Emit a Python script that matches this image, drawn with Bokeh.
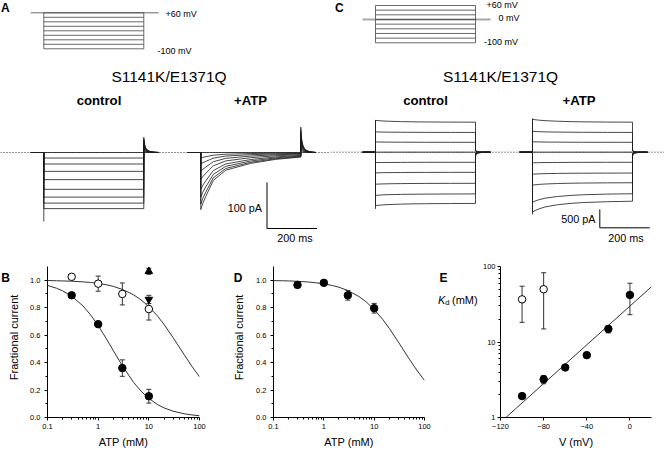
import math
from bokeh.plotting import figure
from bokeh.layouts import column, row
from bokeh.models import (Range1d, FixedTicker, Label, Span, Whisker, TeeHead,
                          ColumnDataSource, CustomJSTickFormatter, PrintfTickFormatter)
from bokeh.embed import file_html
from bokeh.resources import INLINE

# ======================= DATA =======================
# voltage protocol (mV) and timing (ms)
STEP_MV = [60, 40, 20, 0, -20, -40, -60, -80, -100]
A_HOLD_MV = 60
C_HOLD_MV = 0
PULSE_MS = 400
PRE_MS = -52
POST_MS = 460
ATP_OFFSET_MS = 628

# panel A currents (pA), one value per voltage step
A_CTRL_PA = [0, -12, -25, -41, -59, -80, -97, -110, -122]
A_CTRL_CAP_PA = -150
A_CTRL_TAIL_PA = [0, 5, 9, 13, 17, 21, 25, 29, 33]
A_ATP_PEAK_PA = [0, -12, -25, -41, -59, -80, -97, -112, -124]
A_ATP_TAIL_PA = [0, 8, 14, 21, 28, 35, 42, 48, 55]
ATP_DECAY_MS = [0, 8, 20, 35, 50, 100, 200, 300, 400]
ATP_DECAY_FRAC = [1.0, 0.89, 0.77, 0.63, 0.49, 0.31, 0.19, 0.12, 0.08]
TAIL_MS = [0, 3, 8, 15, 25, 40, 60]
TAIL_FRAC = [1.0, 0.55, 0.30, 0.15, 0.07, 0.02, 0.0]

# panel C currents (pA)
C_CTRL_START_PA = [870, 555, 280, 0, -285, -565, -875, -1180, -1460]
C_CTRL_END_PA = [820, 540, 270, 0, -275, -550, -850, -1140, -1400]
C_ATP_START_PA = [900, 570, 285, 0, -290, -600, -900, -1370, -1640]
C_ATP_END_PA = [820, 540, 270, 0, -275, -570, -835, -1135, -1340]
C_RELAX_MS = [0, 10, 25, 50, 100, 150, 200, 300, 400]
C_RELAX_FRAC = [1.0, 0.85, 0.70, 0.52, 0.32, 0.20, 0.12, 0.04, 0.0]
C_CTRL_CAP_PA = [880, -1550]
C_ATP_CAP_PA = [920, -1700]
C_TAIL_PA = [60, 45, 30, 0, -25, -45, -65, -85, -110]

SCALE_A_PA = 100
SCALE_C_PA = 500
SCALE_MS = 200

# panel B: fractional current vs [ATP]
ATP_MM = [0.3, 1, 3, 10]
B_FILLED = [0.89, 0.68, 0.36, 0.155]
B_FILLED_SEM = [0, 0, 0.06, 0.05]
B_OPEN = [1.025, 0.975, 0.90, 0.79]
B_OPEN_SEM = [0, 0.055, 0.08, 0.08]
B_UP_MM = [10]
B_UP = [1.065]
B_UP_SEM = [0.022]
B_DOWN_MM = [10]
B_DOWN = [0.86]
B_DOWN_SEM = [0.03]
FIT_MM = [0.1, 0.15, 0.2, 0.3, 0.5, 0.7, 1, 1.5, 2, 3, 5, 7, 10, 15, 20, 30, 50, 70, 100]
B_FIT_FILLED = [0.962, 0.942, 0.922, 0.884, 0.813, 0.750, 0.670, 0.565, 0.486, 0.377,
                0.256, 0.192, 0.139, 0.093, 0.070, 0.046, 0.027, 0.019, 0.013]
B_FIT_OPEN = [0.998, 0.996, 0.995, 0.993, 0.988, 0.984, 0.977, 0.966, 0.955, 0.933,
              0.894, 0.857, 0.808, 0.737, 0.677, 0.583, 0.457, 0.375, 0.296]

# panel D
D_FRAC = [0.966, 0.981, 0.89, 0.796]
D_SEM = [0, 0, 0.035, 0.035]
D_FIT = [0.997, 0.996, 0.995, 0.992, 0.987, 0.981, 0.974, 0.961, 0.949, 0.925,
         0.881, 0.841, 0.787, 0.712, 0.649, 0.552, 0.425, 0.346, 0.270]

# panel E: Kd vs voltage
E_V = [-100, -80, -60, -40, -20, 0]
E_KD = [1.92, 3.2, 4.6, 6.7, 14.9, 42]
E_KD_LO = [1.92, 2.8, 4.6, 6.7, 13.2, 23]
E_KD_HI = [1.92, 3.6, 4.6, 6.7, 16.3, 60]
E_V_OPEN = [-100, -80]
E_KD_OPEN = [36.7, 50]
E_KD_OPEN_LO = [18.2, 14.9]
E_KD_OPEN_HI = [54.8, 82.7]
E_FIT_V = [-115, 20]
E_FIT_KD = [1.0, 54]

# ======================= STYLE / LAYOUT =======================
FONT = "Liberation Sans"
TRACE = "#1a1a1a"
TOP_H = 253
BOT_H = 197


def lab(p, x, y, text, size, style="normal", align="left", baseline="middle",
        yr="default", angle=0.0):
    p.add_layout(Label(x=x, y=y, text=text, text_font=FONT, text_font_size=f"{size}px",
                       text_font_style=style, text_align=align, text_baseline=baseline,
                       text_color="black", y_range_name=yr, angle=angle))


def blank(w, h, xr, yr):
    p = figure(width=w, height=h, x_range=Range1d(*xr), y_range=Range1d(*yr),
               output_backend="svg", toolbar_location=None, x_axis_location=None,
               y_axis_location=None, min_border=0, outline_line_color=None)
    p.grid.visible = False
    return p


def trace_fig(w, xr, yr):
    p = blank(w, TOP_H, xr, yr)
    p.add_layout(Span(location=0, dimension="width", line_color="#222222",
                      line_width=1, line_dash="1 2"))
    return p


def tail_part(amp):
    return ([PULSE_MS + t for t in TAIL_MS], [amp * f for f in TAIL_FRAC])


# ---------------- Panel A ----------------
def a_t(xr): return (xr - 43.3) * 4.0
def a_pa(yr): return (152.0 - yr) / 0.46
def a_mv(yr): return 60.0 - (yr - 12.3) / 0.225


pa = trace_fig(330, (a_t(0), a_t(330)), (a_pa(253), a_pa(0)))
pa.extra_y_ranges = {"mv": Range1d(a_mv(253), a_mv(0))}

pxs = [[0, PULSE_MS] for _ in STEP_MV] + [[0, 0], [PULSE_MS, PULSE_MS], [PRE_MS, POST_MS]]
pys = [[v, v] for v in STEP_MV] + [[min(STEP_MV), max(STEP_MV)]] * 2 + [[A_HOLD_MV, A_HOLD_MV]]
pa.multi_line(pxs, pys, line_color="#444444", line_width=0.8, y_range_name="mv")

xs, ys = [], []
for L, tl in zip(A_CTRL_PA, A_CTRL_TAIL_PA):
    tx, ty = tail_part(tl)
    xs.append([PRE_MS, 0, 0, PULSE_MS] + tx)
    ys.append([0, 0, L, L] + ty)
xs.append([0, 0]); ys.append([0, A_CTRL_CAP_PA])
for L, tl in zip(A_ATP_PEAK_PA, A_ATP_TAIL_PA):
    tx, ty = tail_part(tl)
    x = [PRE_MS, 0] + ATP_DECAY_MS + tx
    y = [0, 0] + [L * f for f in ATP_DECAY_FRAC] + ty
    xs.append([v + ATP_OFFSET_MS for v in x]); ys.append(y)
pa.multi_line(xs, ys, line_color=TRACE, line_width=0.8)

sb_t, sb_p = a_t(266.5), a_pa(228)
pa.multi_line([[sb_t, sb_t, sb_t + SCALE_MS]], [[sb_p + SCALE_A_PA, sb_p, sb_p]],
              line_color="black", line_width=1)

lab(pa, a_t(0.5), a_pa(7.5), "A", 12, "bold")
lab(pa, a_t(165), a_pa(13), "+60 mV", 9)
lab(pa, a_t(157), a_pa(50), "-100 mV", 9)
lab(pa, a_t(168.5), a_pa(76), "S1141K/E1371Q", 15.5, align="center")
lab(pa, a_t(98.5), a_pa(100), "control", 13.2, "bold", align="center")
lab(pa, a_t(250), a_pa(100), "+ATP", 13.2, "bold", align="center")
lab(pa, a_t(261.5), a_pa(207.5), f"{SCALE_A_PA} pA", 10.8, align="right")
lab(pa, a_t(294.5), a_pa(237), f"{SCALE_MS} ms", 10.8, align="center")

# ---------------- Panel C ----------------
def c_t(xr): return (xr - 375.0) * 4.0
def c_pa(yr): return (151.7 - yr) * 27.32
def c_mv(yr): return 60.0 - (yr - 5.0) / 0.2331


pc = trace_fig(334, (c_t(330), c_t(664)), (c_pa(253), c_pa(0)))
pc.extra_y_ranges = {"mv": Range1d(c_mv(253), c_mv(0))}
pc.line([PRE_MS, POST_MS], [C_HOLD_MV, C_HOLD_MV], line_color="#a8a8a8",
        line_width=1.8, y_range_name="mv")
pxs = [[0, PULSE_MS] for _ in STEP_MV] + [[0, 0], [PULSE_MS, PULSE_MS]]
pys = [[v, v] for v in STEP_MV] + [[min(STEP_MV), max(STEP_MV)]] * 2
pc.multi_line(pxs, pys, line_color="#444444", line_width=0.8, y_range_name="mv")

xs, ys = [], []
for off, starts, ends, cap in ((0, C_CTRL_START_PA, C_CTRL_END_PA, C_CTRL_CAP_PA),
                               (ATP_OFFSET_MS, C_ATP_START_PA, C_ATP_END_PA, C_ATP_CAP_PA)):
    for s, e, tl in zip(starts, ends, C_TAIL_PA):
        tx, ty = tail_part(tl)
        x = [PRE_MS, 0] + C_RELAX_MS + tx
        y = [0, 0] + [e + (s - e) * f for f in C_RELAX_FRAC] + ty
        xs.append([v + off for v in x]); ys.append(y)
    xs.append([off, off]); ys.append(list(cap))
pc.multi_line(xs, ys, line_color=TRACE, line_width=0.8)

sb_t, sb_p = c_t(599.3), c_pa(227.3)
pc.multi_line([[sb_t, sb_t, sb_t + SCALE_MS]], [[sb_p + SCALE_C_PA, sb_p, sb_p]],
              line_color="black", line_width=1)

lab(pc, c_t(334.5), c_pa(7.5), "C", 12, "bold")
lab(pc, c_t(486), c_pa(4.5), "+60 mV", 9)
lab(pc, c_t(498), c_pa(17.5), "0 mV", 9)
lab(pc, c_t(483.5), c_pa(41), "-100 mV", 9)
lab(pc, c_t(500), c_pa(76), "S1141K/E1371Q", 15.5, align="center")
lab(pc, c_t(425), c_pa(100), "control", 13.2, "bold", align="center")
lab(pc, c_t(578.5), c_pa(100), "+ATP", 13.2, "bold", align="center")
lab(pc, c_t(595), c_pa(218), f"{SCALE_C_PA} pA", 10.8, align="right")
lab(pc, c_t(625.5), c_pa(237.5), f"{SCALE_MS} ms", 10.8, align="center")


# ---------------- bottom panels ----------------
def strip(x0, x1):
    # blank area (reference pixel coordinates) holding panel letters / side labels
    return blank(x1 - x0, BOT_H, (x0, x1), (450, 253))


def data_fig(w, left, frame_w, xr, yr, x_type="linear", y_type="linear"):
    p = figure(width=w, height=BOT_H, x_range=xr, y_range=yr, x_axis_type=x_type,
               y_axis_type=y_type, output_backend="svg", toolbar_location=None,
               min_border_left=left, min_border_right=w - left - frame_w,
               min_border_top=13, min_border_bottom=31, outline_line_color=None)
    p.grid.visible = False
    for ax in (p.xaxis[0], p.yaxis[0]):
        ax.axis_line_color = "black"
        ax.axis_line_width = 1
        ax.major_tick_line_color = "black"
        ax.minor_tick_line_color = "black"
        ax.major_tick_out = 3
        ax.major_tick_in = 0
        ax.minor_tick_out = 2
        ax.minor_tick_in = 0
        ax.major_label_text_font = FONT
        ax.major_label_text_font_size = "7.5px"
        ax.major_label_text_color = "black"
        ax.major_label_standoff = 3
        ax.axis_label_text_font = FONT
        ax.axis_label_text_font_size = "11px"
        ax.axis_label_text_font_style = "normal"
        ax.axis_label_text_color = "black"
        ax.axis_label_standoff = 4
    p.yaxis.major_label_standoff = 4
    return p


LOG_MINOR = [m * 10.0 ** e for e in (-1, 0, 1) for m in range(2, 10)]


def frac_axes(p):
    p.xaxis.ticker = FixedTicker(ticks=[0.1, 1, 10, 100], minor_ticks=LOG_MINOR)
    p.xaxis.formatter = CustomJSTickFormatter(code="return tick.toString();")
    p.yaxis.ticker = FixedTicker(ticks=[0, 0.2, 0.4, 0.6, 0.8, 1.0],
                                 minor_ticks=[0.1, 0.3, 0.5, 0.7, 0.9])
    p.yaxis.formatter = PrintfTickFormatter(format="%.1f")
    p.xaxis.axis_label = "ATP (mM)"


def err(p, x, lo, hi):
    src = ColumnDataSource(dict(base=x, lower=lo, upper=hi))
    p.add_layout(Whisker(source=src, base="base", lower="lower", upper="upper",
                         line_color="#333333", line_width=1,
                         upper_head=TeeHead(size=5, line_color="#333333", line_width=1),
                         lower_head=TeeHead(size=5, line_color="#333333", line_width=1)))


def err_sem(p, x, y, sem):
    keep = [i for i, s in enumerate(sem) if s > 0]
    err(p, [x[i] for i in keep], [y[i] - sem[i] for i in keep], [y[i] + sem[i] for i in keep])


# Panel B
sb = strip(0, 27)
lab(sb, 5, 268.5, "B", 12, "bold", align="center")
lab(sb, 13, 345.5, "Fractional current", 11, align="center", angle=math.pi / 2)

pb = data_fig(193, 18, 154, Range1d(0.1, 100), Range1d(0, 1.1), x_type="log")
frac_axes(pb)
pb.line(FIT_MM, B_FIT_FILLED, line_color="#333333", line_width=1)
pb.line(FIT_MM, B_FIT_OPEN, line_color="#333333", line_width=1)
err_sem(pb, ATP_MM, B_FILLED, B_FILLED_SEM)
err_sem(pb, ATP_MM, B_OPEN, B_OPEN_SEM)
err_sem(pb, B_UP_MM, B_UP, B_UP_SEM)
err_sem(pb, B_DOWN_MM, B_DOWN, B_DOWN_SEM)
pb.scatter(ATP_MM, B_FILLED, marker="circle", size=7.5, fill_color="black", line_color="black")
pb.scatter(ATP_MM, B_OPEN, marker="circle", size=7.5, fill_color="white", line_color="black")
pb.scatter(B_UP_MM, B_UP, marker="triangle", size=7.5, fill_color="black", line_color="black")
pb.scatter(B_DOWN_MM, B_DOWN, marker="inverted_triangle", size=7.5, fill_color="black",
           line_color="black")

# Panel D
sd = strip(220, 253)
lab(sd, 237.5, 268.5, "D", 12, "bold", align="center")
lab(sd, 238, 345.5, "Fractional current", 11, align="center", angle=math.pi / 2)

pd_ = data_fig(183, 18, 153, Range1d(0.1, 100), Range1d(0, 1.1), x_type="log")
frac_axes(pd_)
pd_.line(FIT_MM, D_FIT, line_color="#333333", line_width=1)
err_sem(pd_, ATP_MM, D_FRAC, D_SEM)
pd_.scatter(ATP_MM, D_FRAC, marker="circle", size=7.5, fill_color="black", line_color="black")

# Panel E
se = strip(436, 479)
lab(se, 443, 268.5, "E", 12, "bold", align="center")
lab(se, 437.5, 297, "K", 11, "italic")
lab(se, 444.8, 300.5, "d", 7.5)
lab(se, 451.5, 297, "(mM)", 11)

pe = data_fig(185, 17, 155, Range1d(-120, 20), Range1d(1, 100), y_type="log")
pe.yaxis.major_label_standoff = 2
pe.xaxis.ticker = FixedTicker(ticks=[-120, -80, -40, 0])
pe.yaxis.ticker = FixedTicker(ticks=[1, 10, 100],
                              minor_ticks=[m * 10.0 ** e for e in (0, 1) for m in range(2, 10)])
pe.yaxis.formatter = CustomJSTickFormatter(code="return tick.toString();")
pe.xaxis.axis_label = "V (mV)"
pe.line(E_FIT_V, E_FIT_KD, line_color="#333333", line_width=1)
keep = [i for i in range(len(E_V)) if E_KD_HI[i] > E_KD_LO[i]]
err(pe, [E_V[i] for i in keep], [E_KD_LO[i] for i in keep], [E_KD_HI[i] for i in keep])
err(pe, E_V_OPEN, E_KD_OPEN_LO, E_KD_OPEN_HI)
pe.scatter(E_V, E_KD, marker="circle", size=7.5, fill_color="black", line_color="black")
pe.scatter(E_V_OPEN, E_KD_OPEN, marker="circle", size=7.5, fill_color="white", line_color="black")

layout = column(row(pa, pc), row(sb, pb, sd, pd_, se, pe))
open("out.html", "w").write(file_html(layout, INLINE, "Figure"))
